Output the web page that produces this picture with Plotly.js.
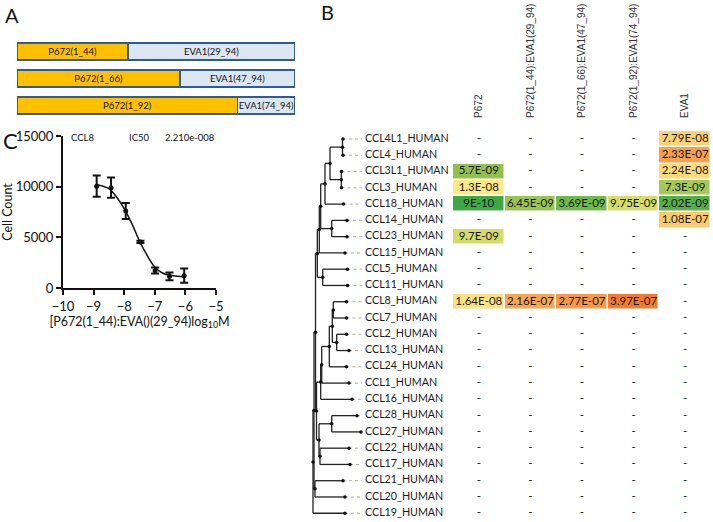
<!DOCTYPE html>
<html><head><meta charset="utf-8">
<script src="https://cdn.plot.ly/plotly-3.0.1.min.js"></script>
<style>html,body{margin:0;padding:0;background:#fff}#chart{width:713px;height:522px}</style>
</head><body><div id="chart"></div>
<script>
// ---------- Panel A: construct layout ----------
const constructRows = [0, 1, 2];
const p672Labels = ['P672(1_44)', 'P672(1_66)', 'P672(1_92)'];
const eva1Labels = ['EVA1(29_94)', 'EVA1(47_94)', 'EVA1(74_94)'];
const p672Share = [40, 58.7, 79.4];
const eva1Share = [60, 41.3, 20.6];

// ---------- Panel C: dose response ----------
const logConc = [-8.9, -8.43, -7.95, -7.47, -6.99, -6.52, -6.04];
const cellCount = [10050, 9900, 7600, 4550, 1720, 1150, 1220];
const cellCountErr = [1050, 1000, 800, 120, 300, 380, 700];
const fitLogConc = [-8.9, -8.75, -8.5, -8.25, -8, -7.75, -7.5, -7.25, -7, -6.75, -6.5, -6.25, -6.04];
const fitCellCount = [10200, 10100, 9800, 8980, 7830, 6350, 4640, 3220, 2070, 1480, 1250, 1150, 1120];

// ---------- Panel B: heat map ----------
const chemokines = ['CCL4L1_HUMAN','CCL4_HUMAN','CCL3L1_HUMAN','CCL3_HUMAN','CCL18_HUMAN','CCL14_HUMAN',
  'CCL23_HUMAN','CCL15_HUMAN','CCL5_HUMAN','CCL11_HUMAN','CCL8_HUMAN','CCL7_HUMAN','CCL2_HUMAN',
  'CCL13_HUMAN','CCL24_HUMAN','CCL1_HUMAN','CCL16_HUMAN','CCL28_HUMAN','CCL27_HUMAN','CCL22_HUMAN',
  'CCL17_HUMAN','CCL21_HUMAN','CCL20_HUMAN','CCL19_HUMAN'];
const ligands = ['P672', 'P672(1_44):EVA1(29_94)', 'P672(1_66):EVA1(47_94)', 'P672(1_92):EVA1(74_94)', 'EVA1'];
const kdP672 =      ['-','-','5.7E-09','1.3E-08','9E-10','-','9.7E-09','-','-','-','1.64E-08','-','-','-','-','-','-','-','-','-','-','-','-','-'];
const kdP672_1_44 = ['-','-','-','-','6.45E-09','-','-','-','-','-','2.16E-07','-','-','-','-','-','-','-','-','-','-','-','-','-'];
const kdP672_1_66 = ['-','-','-','-','3.69E-09','-','-','-','-','-','2.77E-07','-','-','-','-','-','-','-','-','-','-','-','-','-'];
const kdP672_1_92 = ['-','-','-','-','9.75E-09','-','-','-','-','-','3.97E-07','-','-','-','-','-','-','-','-','-','-','-','-','-'];
const kdEVA1 =      ['7.79E-08','2.33E-07','2.24E-08','7.3E-09','2.02E-09','1.08E-07','-','-','-','-','-','-','-','-','-','-','-','-','-','-','-','-','-','-'];

// dendrogram: internal node = [node position, subtree, subtree]; leaf = [tip position, name]
const tree = [0,
  [1,
    [2.5,
      [4.3,
        [6.3,
          [7.7,
            [12,
              [17,
                [29.5, [30, 'CCL4L1_HUMAN'], [30, 'CCL4_HUMAN']],
                [28.3, [28.5, 'CCL3L1_HUMAN'], [28.5, 'CCL3_HUMAN']]],
              [30.5, 'CCL18_HUMAN']],
            [18.7, [34, 'CCL14_HUMAN'], [34, 'CCL23_HUMAN']]],
          [32, 'CCL15_HUMAN']],
        [9.7, [34.5, 'CCL5_HUMAN'], [34.5, 'CCL11_HUMAN']]],
      [3.5,
        [7.7,
          [8.7,
            [16.3,
              [19.3,
                [20.3, [33.5, 'CCL8_HUMAN'], [33.5, 'CCL7_HUMAN']],
                [23.7, [33.5, 'CCL2_HUMAN'], [36, 'CCL13_HUMAN']]],
              [33.5, 'CCL24_HUMAN']],
            [36, 'CCL1_HUMAN']],
          [39, 'CCL16_HUMAN']],
        [6,
          [18.7, [44, 'CCL28_HUMAN'], [48, 'CCL27_HUMAN']],
          [7, [36, 'CCL22_HUMAN'], [37, 'CCL17_HUMAN']]]]],
    [2, [30, 'CCL21_HUMAN'], [32, 'CCL20_HUMAN']]],
  [32, 'CCL19_HUMAN']];

// ---------- build ----------
const FONT = 'Lato, "Liberation Sans", sans-serif';
const W = 713, H = 522;
const px = v => v / W, py = v => 1 - v / H;

const kdCols = [kdP672, kdP672_1_44, kdP672_1_66, kdP672_1_92, kdEVA1];
const z = chemokines.map((_, r) => kdCols.map(col => col[r] === '-' ? null : Math.log10(parseFloat(col[r]))));
const allLog = z.flat().filter(v => v !== null);
const zmin = Math.min(...allLog), zmax = Math.max(...allLog);
const cellX = [], cellY = [], cellText = [];
kdCols.forEach((col, c) => col.forEach((t, r) => { cellX.push(ligands[c]); cellY.push(r); cellText.push(t); }));

// tree segments
const segX = [], segY = [], dotX = [], dotY = [], leadX = [], leadY = [];
const LEADER_END = 49, LABEL_X = 52;
function layoutNode(n) {
  if (typeof n[1] === 'string') {
    const y = chemokines.indexOf(n[1]);
    dotX.push(n[0]); dotY.push(y);
    leadX.push(n[0], LEADER_END, null); leadY.push(y, y, null);
    return y;
  }
  const kids = n.slice(1);
  const ys = kids.map(layoutNode);
  const y = (ys[0] + ys[ys.length - 1]) / 2;
  segX.push(n[0], n[0], null); segY.push(ys[0], ys[ys.length - 1], null);
  kids.forEach((k, i) => { segX.push(n[0], k[0], null); segY.push(ys[i], ys[i], null); });
  dotX.push(n[0]); dotY.push(y);
  return y;
}
layoutNode(tree);

const rowsDomain = [py(521.4), py(130.9)];

const traces = [
  // Panel A
  { type: 'bar', orientation: 'h', x: p672Share, y: constructRows, text: p672Labels,
    textposition: 'inside', insidetextanchor: 'middle', constraintext: 'none',
    textfont: { family: FONT, size: 9.5, color: '#111' },
    marker: { color: '#FFC000', line: { color: '#2E5C96', width: 1.5 } },
    xaxis: 'x2', yaxis: 'y2', hoverinfo: 'skip' },
  { type: 'bar', orientation: 'h', x: eva1Share, y: constructRows, text: eva1Labels,
    textposition: 'inside', insidetextanchor: 'middle', constraintext: 'none',
    textfont: { family: FONT, size: 9.5, color: '#111' },
    marker: { color: '#DCE6F2', line: { color: '#2E5C96', width: 1.5 } },
    xaxis: 'x2', yaxis: 'y2', hoverinfo: 'skip' },
  // Panel C
  { type: 'scatter', mode: 'lines', x: fitLogConc, y: fitCellCount, line: { color: '#111', width: 1.5, shape: 'spline' },
    xaxis: 'x', yaxis: 'y', hoverinfo: 'skip' },
  { type: 'scatter', mode: 'markers', x: logConc, y: cellCount,
    marker: { color: '#111', size: 5 },
    error_y: { type: 'data', array: cellCountErr, visible: true, thickness: 2, width: 4, color: '#111' },
    xaxis: 'x', yaxis: 'y', hoverinfo: 'skip' },
  // Panel B tree
  { type: 'scatter', mode: 'lines', x: leadX, y: leadY, line: { color: '#aaa', width: 1, dash: 'dot' },
    xaxis: 'x3', yaxis: 'y3', hoverinfo: 'skip' },
  { type: 'scatter', mode: 'lines', x: segX, y: segY, line: { color: '#222', width: 1.3 },
    xaxis: 'x3', yaxis: 'y3', hoverinfo: 'skip' },
  { type: 'scatter', mode: 'markers', x: dotX, y: dotY, marker: { color: '#111', size: 3.5 },
    xaxis: 'x3', yaxis: 'y3', hoverinfo: 'skip' },
  { type: 'scatter', mode: 'text', x: chemokines.map(() => LABEL_X), y: chemokines.map((_, i) => i),
    text: chemokines, textposition: 'middle right', textfont: { family: FONT, size: 10.7, color: '#1a1a1a' },
    xaxis: 'x3', yaxis: 'y3', hoverinfo: 'skip' },
  // Panel B heat map
  { type: 'heatmap', x: ligands, y: chemokines.map((_, i) => i), z: z, zmin: zmin, zmax: zmax,
    xgap: 1.5, ygap: 1.5, showscale: false, hoverinfo: 'skip',
    colorscale: [
      [0, 'rgb(62,168,70)'], [0.133, 'rgb(85,176,75)'], [0.232, 'rgb(112,185,76)'],
      [0.303, 'rgb(145,192,80)'], [0.324, 'rgb(152,196,82)'], [0.344, 'rgb(165,200,88)'],
      [0.39, 'rgb(212,220,105)'], [0.439, 'rgb(255,232,135)'], [0.477, 'rgb(255,226,128)'],
      [0.528, 'rgb(255,218,120)'], [0.733, 'rgb(254,210,115)'], [0.786, 'rgb(252,202,108)'],
      [0.9, 'rgb(246,165,80)'], [0.912, 'rgb(245,160,78)'], [0.941, 'rgb(245,152,72)'], [1, 'rgb(240,122,45)']],
    xaxis: 'x4', yaxis: 'y4' },
  { type: 'scatter', mode: 'text', x: cellX, y: cellY, text: cellText, textposition: 'middle center',
    textfont: { family: FONT, size: 11.5, color: '#1a1a1a' }, xaxis: 'x4', yaxis: 'y4', hoverinfo: 'skip' }
];

const axisC = { showline: true, linewidth: 2, linecolor: '#111', ticks: 'outside', ticklen: 5, tickwidth: 2,
  tickcolor: '#111', showgrid: false, zeroline: false, tickfont: { family: FONT, size: 13, color: '#111' } };

const layout = {
  width: W, height: H, margin: { l: 0, r: 0, t: 0, b: 0 }, showlegend: false,
  paper_bgcolor: '#fff', plot_bgcolor: 'rgba(0,0,0,0)', font: { family: FONT, color: '#111' },
  barmode: 'stack', bargap: 0.37,
  xaxis: Object.assign({}, axisC, { domain: [px(63), px(216)], range: [-10, -5], tickvals: [-10, -9, -8, -7, -6, -5],
    anchor: 'y', title: { text: '[P672(1_44):EVA()(29_94)log<sub>10</sub>M', font: { family: FONT, size: 12.5, color: '#111' }, standoff: 4 } }),
  yaxis: Object.assign({}, axisC, { domain: [py(288), py(136)], range: [0, 15000], tickvals: [0, 5000, 10000, 15000],
    tickformat: 'd', anchor: 'x', title: { text: 'Cell Count', font: { family: FONT, size: 12.5, color: '#111' }, standoff: 1 } }),
  xaxis2: { domain: [px(17), px(295)], range: [0, 100], visible: false, anchor: 'y2' },
  yaxis2: { domain: [py(119), py(38)], range: [2.5, -0.5], visible: false, anchor: 'x2' },
  xaxis3: { domain: [px(309), px(455)], range: [-4, 142], visible: false, anchor: 'y3' },
  yaxis3: { domain: rowsDomain, range: [23.5, -0.5], visible: false, anchor: 'x3' },
  xaxis4: { domain: [px(453), px(711)], side: 'top', anchor: 'y4', type: 'category', tickangle: -90,
    ticks: '', showgrid: false, showline: false, zeroline: false, ticklabelstandoff: 12,
    tickfont: { family: '"Liberation Sans", Arial, sans-serif', size: 10, color: '#333' } },
  yaxis4: { domain: rowsDomain, range: [23.5, -0.5], visible: false, anchor: 'x4' },
  annotations: [
    { text: 'A', xref: 'paper', yref: 'paper', x: px(3), y: py(15), xanchor: 'left', yanchor: 'middle', showarrow: false, font: { family: FONT, size: 20, color: '#111' } },
    { text: 'B', xref: 'paper', yref: 'paper', x: px(319), y: py(12), xanchor: 'left', yanchor: 'middle', showarrow: false, font: { family: FONT, size: 20, color: '#111' } },
    { text: 'C', xref: 'paper', yref: 'paper', x: px(1), y: py(140), xanchor: 'left', yanchor: 'middle', showarrow: false, font: { family: FONT, size: 22, color: '#111' } },
    { text: 'CCL8', xref: 'paper', yref: 'paper', x: px(69), y: py(137), xanchor: 'left', yanchor: 'middle', showarrow: false, font: { family: FONT, size: 9.5, color: '#111' } },
    { text: 'IC50', xref: 'paper', yref: 'paper', x: px(127), y: py(137), xanchor: 'left', yanchor: 'middle', showarrow: false, font: { family: FONT, size: 9.5, color: '#111' } },
    { text: '2.210e-008', xref: 'paper', yref: 'paper', x: px(163), y: py(137), xanchor: 'left', yanchor: 'middle', showarrow: false, font: { family: FONT, size: 9.5, color: '#111' } }
  ]
};

Plotly.newPlot('chart', traces, layout, { staticPlot: true, displayModeBar: false });
</script>
</body></html>
